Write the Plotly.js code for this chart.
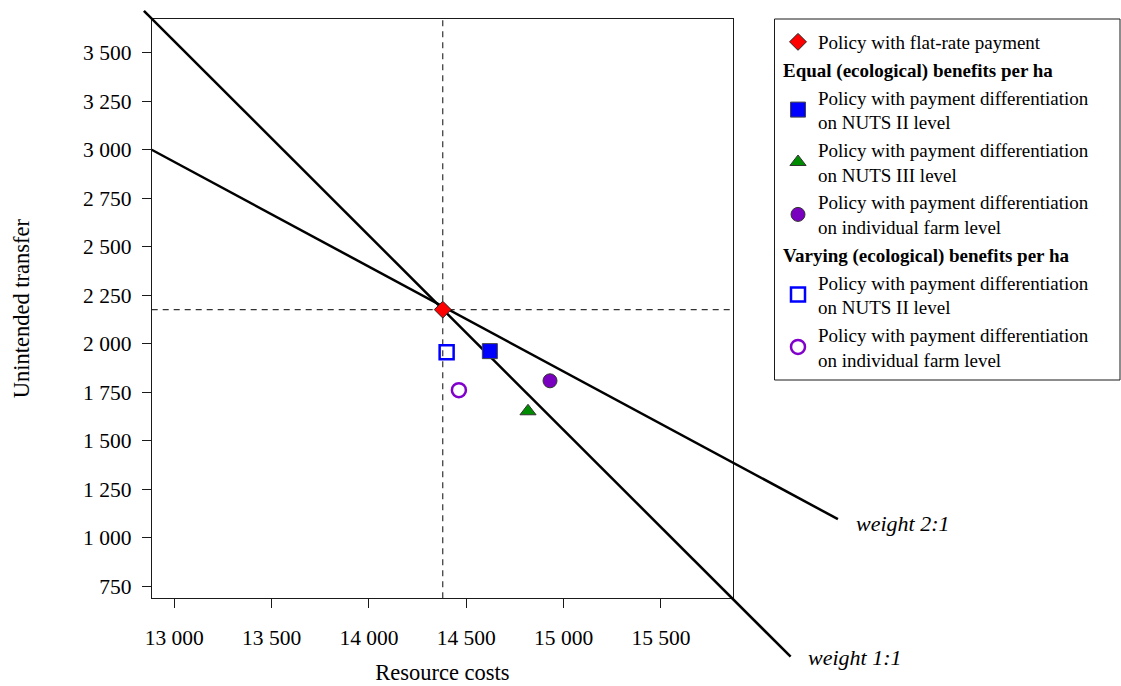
<!DOCTYPE html>
<html><head><meta charset="utf-8">
<script src="https://cdn.plot.ly/plotly-3.0.1.min.js"></script>
<style>html,body{margin:0;padding:0;background:#fff}#chart{width:1121px;height:686px}</style>
</head><body><div id="chart"></div>
<script>
// ---- data ----
const flatX = [14379], flatY = [2176];
const nuts2EqualX = [14621], nuts2EqualY = [1962];
const nuts3EqualX = [14817], nuts3EqualY = [1652];
const farmEqualX = [14930], farmEqualY = [1809];
const nuts2VaryX = [14399], nuts2VaryY = [1956];
const farmVaryX = [14462], farmVaryY = [1761];
const weight11X = [12844, 16166], weight11Y = [3716, 387];
const weight21X = [12884, 16409], weight21Y = [3000, 1096];
const xTicks = [13000, 13500, 14000, 14500, 15000, 15500];
const yTicks = [750, 1000, 1250, 1500, 1750, 2000, 2250, 2500, 2750, 3000, 3250, 3500];
const names = {
  flat: 'Policy with flat-rate payment',
  n2e: 'Policy with payment differentiation<br>on NUTS II level',
  n3e: 'Policy with payment differentiation<br>on NUTS III level',
  fe: 'Policy with payment differentiation<br>on individual farm level',
  n2v: 'Policy with payment differentiation<br>on NUTS II level',
  fv: 'Policy with payment differentiation<br>on individual farm level'
};
const groupEqual = 'Equal (ecological) benefits per ha';
const groupVary = 'Varying (ecological) benefits per ha';
const label11 = 'weight 1:1', label21 = 'weight 2:1';

// ---- layout geometry ----
const W = 1121, H = 686;
const xr = [12884, 15870], yr = [688, 3674];
const xd = [151.7 / W, 733 / W], yd = [1 - 598.3 / H, 1 - 19 / H];
// a wider, invisible axis pair with the same scale, so the weight lines can run past the frame
const x2d = [0.08, 0.86], y2d = [0.01, 1.0];
const sx = (xr[1] - xr[0]) / (xd[1] - xd[0]);
const sy = (yr[1] - yr[0]) / (yd[1] - yd[0]);
const x2r = [xr[0] - (xd[0] - x2d[0]) * sx, xr[0] + (x2d[1] - xd[0]) * sx];
const y2r = [yr[0] - (yd[0] - y2d[0]) * sy, yr[0] + (y2d[1] - yd[0]) * sy];

const FONT = 'Liberation Serif, Times New Roman, serif';
const INK = '#1a1a1a';

const traces = [
  {x: weight11X, y: weight11Y, xaxis: 'x2', yaxis: 'y2', mode: 'lines',
   line: {color: '#000', width: 2.5}, showlegend: false, hoverinfo: 'skip'},
  {x: weight21X, y: weight21Y, xaxis: 'x2', yaxis: 'y2', mode: 'lines',
   line: {color: '#000', width: 2.5}, showlegend: false, hoverinfo: 'skip'},
  {x: flatX, y: flatY, xaxis: 'x2', yaxis: 'y2', mode: 'markers', name: names.flat,
   legendgroup: 'flat',
   marker: {symbol: 'diamond', size: 13, color: '#ff0000', line: {color: '#222', width: 1}}},
  {x: nuts2EqualX, y: nuts2EqualY, xaxis: 'x2', yaxis: 'y2', mode: 'markers', name: names.n2e,
   legendgroup: 'equal', legendgrouptitle: {text: '<b>' + groupEqual + '</b>'},
   marker: {symbol: 'square', size: 15, color: '#0000ff', line: {color: '#444', width: 1}}},
  {x: nuts3EqualX, y: nuts3EqualY, xaxis: 'x2', yaxis: 'y2', mode: 'markers', name: names.n3e,
   legendgroup: 'equal',
   marker: {symbol: 'triangle-up', size: 14, color: '#008c00', line: {color: '#333', width: 1}}},
  {x: farmEqualX, y: farmEqualY, xaxis: 'x2', yaxis: 'y2', mode: 'markers', name: names.fe,
   legendgroup: 'equal',
   marker: {symbol: 'circle', size: 14, color: '#7a00c0', line: {color: '#333', width: 1}}},
  {x: nuts2VaryX, y: nuts2VaryY, xaxis: 'x2', yaxis: 'y2', mode: 'markers', name: names.n2v,
   legendgroup: 'vary', legendgrouptitle: {text: '<b>' + groupVary + '</b>'},
   marker: {symbol: 'square-open', size: 14, color: '#0000ff', line: {width: 2.5}}},
  {x: farmVaryX, y: farmVaryY, xaxis: 'x2', yaxis: 'y2', mode: 'markers', name: names.fv,
   legendgroup: 'vary',
   marker: {symbol: 'circle-open', size: 14, color: '#8000cc', line: {width: 2.5}}}
];

const layout = {
  width: W, height: H,
  margin: {l: 0, r: 0, t: 0, b: 0},
  paper_bgcolor: '#fff', plot_bgcolor: 'rgba(0,0,0,0)',
  separators: '. ',
  font: {family: FONT, color: '#000', size: 19},
  xaxis: {domain: xd, range: xr, anchor: 'y', tickvals: xTicks, tickformat: ',d',
    ticks: 'outside', ticklen: 9, tickcolor: INK, ticklabelstandoff: 11,
    showline: true, mirror: true, linecolor: INK, linewidth: 1,
    showgrid: false, zeroline: false, automargin: false, fixedrange: true,
    tickfont: {size: 21.5, family: FONT},
    title: {text: 'Resource costs', font: {size: 22.5, family: FONT}, standoff: 15}},
  yaxis: {domain: yd, range: yr, anchor: 'x', tickvals: yTicks, tickformat: ',d',
    ticks: 'outside', ticklen: 9, tickcolor: INK, ticklabelstandoff: 6,
    showline: true, mirror: true, linecolor: INK, linewidth: 1,
    showgrid: false, zeroline: false, automargin: false, fixedrange: true,
    tickfont: {size: 21.5, family: FONT},
    title: {text: 'Unintended transfer', font: {size: 22.5, family: FONT}, standoff: 47}},
  xaxis2: {domain: x2d, range: x2r, anchor: 'y2', visible: false, fixedrange: true},
  yaxis2: {domain: y2d, range: y2r, anchor: 'x2', visible: false, fixedrange: true},
  shapes: [
    {type: 'line', xref: 'x', yref: 'y domain', x0: flatX[0], x1: flatX[0], y0: 0, y1: 1,
     layer: 'below', line: {color: '#333', width: 1.2, dash: '6px,5px'}},
    {type: 'line', xref: 'x domain', yref: 'y', x0: 0, x1: 1, y0: flatY[0], y1: flatY[0],
     layer: 'below', line: {color: '#333', width: 1.2, dash: '6px,5px'}},
    // legend frame
    {type: 'rect', xref: 'paper', yref: 'paper', x0: 774.5 / W, x1: 1120 / W,
     y0: 1 - 380 / H, y1: 1 - 19 / H, layer: 'below',
     line: {color: INK, width: 1}, fillcolor: 'rgba(0,0,0,0)'}
  ],
  annotations: [
    {text: '<i>' + label21 + '</i>', xref: 'paper', yref: 'paper', x: 854 / W, y: 1 - 523 / H,
     xanchor: 'left', yanchor: 'middle', showarrow: false, font: {size: 22, family: FONT}},
    {text: '<i>' + label11 + '</i>', xref: 'paper', yref: 'paper', x: 806 / W, y: 1 - 657 / H,
     xanchor: 'left', yanchor: 'middle', showarrow: false, font: {size: 22, family: FONT}}
  ],
  showlegend: true,
  legend: {x: 778 / W, y: 1 - 23 / H, xanchor: 'left', yanchor: 'top',
    bgcolor: 'rgba(0,0,0,0)', borderwidth: 0,
    font: {size: 19, family: FONT}, tracegroupgap: 0, traceorder: 'grouped',
    itemclick: false, itemdoubleclick: false,
    grouptitlefont: {size: 19, family: FONT}}
};

Plotly.newPlot('chart', traces, layout, {displayModeBar: false, staticPlot: true});
</script>
</body></html>
